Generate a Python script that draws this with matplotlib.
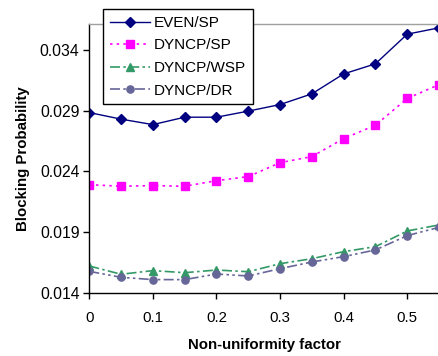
import matplotlib
matplotlib.use("Agg")
import matplotlib.pyplot as plt
from matplotlib.ticker import FixedLocator

plt.rcParams['font.family'] = ['Liberation Sans', 'DejaVu Sans']

x = [0, 0.05, 0.1, 0.15, 0.2, 0.25, 0.3, 0.35, 0.4, 0.45, 0.5, 0.55]
even_sp = [0.02884, 0.0283, 0.02785, 0.02846, 0.02846, 0.02896, 0.0295, 0.03038, 0.03202, 0.03285, 0.03529, 0.03581]
dyncp_sp = [0.02291, 0.02278, 0.02283, 0.02278, 0.02324, 0.02357, 0.02472, 0.02522, 0.0267, 0.0278, 0.0300, 0.03114]
dyncp_wsp = [0.01622, 0.01554, 0.01584, 0.01567, 0.01589, 0.01575, 0.01641, 0.01682, 0.0174, 0.01781, 0.0191, 0.0196]
dyncp_dr = [0.01578, 0.01529, 0.0151, 0.0151, 0.01556, 0.0154, 0.0160, 0.01655, 0.01699, 0.01754, 0.01872, 0.0194]

xticks = [0, 0.1, 0.2, 0.3, 0.4, 0.5]
xticklabels = ['0', '0.1', '0.2', '0.3', '0.4', '0.5']
yticks = [0.014, 0.019, 0.024, 0.029, 0.034]
yticklabels = ['0.014', '0.019', '0.024', '0.029', '0.034']

fig = plt.figure(figsize=(4.39, 3.56), dpi=100)
ax = fig.add_axes([0.2034, 0.177, 0.7966, 0.7547])

ax.plot(x, even_sp, color='#000080', linestyle='-', linewidth=1.0, marker='D', markersize=4.8, label='EVEN/SP')
ax.plot(x, dyncp_sp, color='#FF00FF', linestyle=(0, (1.5, 2.5)), linewidth=1.2, marker='s', markersize=5.8, label='DYNCP/SP')
ax.plot(x, dyncp_wsp, color='#339966', linestyle=(0, (6, 2, 1.5, 2)), linewidth=1.2, marker='^', markersize=5.8, label='DYNCP/WSP')
ax.plot(x, dyncp_dr, color='#666699', linestyle=(0, (6, 2, 1.5, 2, 1.5, 2)), linewidth=1.2, marker='o', markersize=5.2, label='DYNCP/DR')

ax.set_xlim(0, 0.55)
ax.set_ylim(0.014, 0.0361)
ax.xaxis.set_major_locator(FixedLocator(xticks))
ax.set_xticklabels(xticklabels)
ax.yaxis.set_major_locator(FixedLocator(yticks))
ax.set_yticklabels(yticklabels)

ax.tick_params(axis='both', direction='out', length=4, width=1, colors='black')
ax.tick_params(axis='x', pad=9, labelsize=10.8)
ax.tick_params(axis='y', pad=3, labelsize=11.3)

for s in ['left', 'bottom']:
    ax.spines[s].set_color('black')
    ax.spines[s].set_linewidth(1.0)
for s in ['top', 'right']:
    ax.spines[s].set_color('#A0A0A0')
    ax.spines[s].set_linewidth(1.0)

ax.set_xlabel('Non-uniformity factor', fontsize=10.8, fontweight='bold', labelpad=9)
ax.set_ylabel('Blocking Probability', fontsize=10.8, fontweight='bold', labelpad=7)

leg = fig.legend(loc='upper left', bbox_to_anchor=(103/439, 1 - 9/356), bbox_transform=fig.transFigure,
                 fontsize=11, frameon=True, fancybox=False, handlelength=2.6, borderpad=0.45,
                 labelspacing=0.56, handletextpad=0.3, borderaxespad=0)
leg.get_frame().set_edgecolor('black')
leg.get_frame().set_linewidth(1.0)
leg.get_frame().set_alpha(1)

fig.savefig('out.png', dpi=100)
